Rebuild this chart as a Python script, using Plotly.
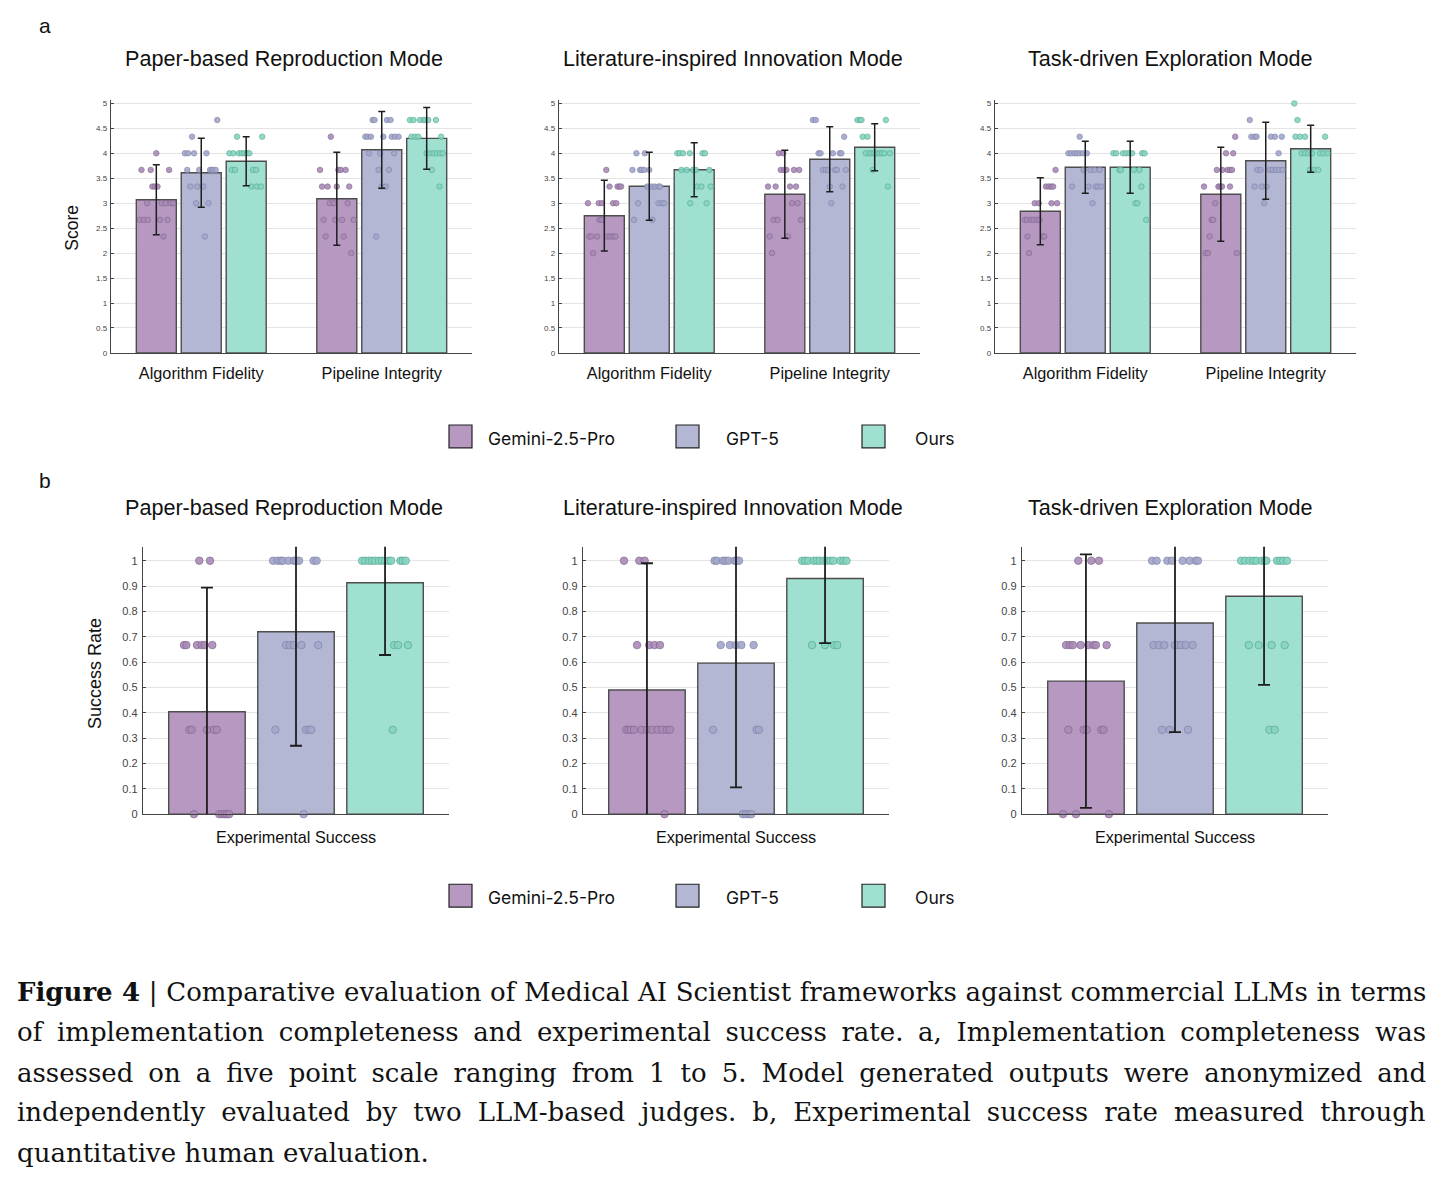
import plotly.graph_objects as go

W, H = 1442, 1188

# ---------------- data ----------------
modes = ["Paper-based Reproduction Mode", "Literature-inspired Innovation Mode", "Task-driven Exploration Mode"]
models = ["Gemini-2.5-Pro", "GPT-5", "Ours"]
score_categories = ["Algorithm Fidelity", "Pipeline Integrity"]
success_category = "Experimental Success"

# mean score [category][model]
score_mean_repro = [[3.07, 3.61, 3.84], [3.09, 4.07, 4.30]]
score_err_repro = [[0.70, 0.69, 0.49], [0.93, 0.77, 0.62]]
score_mean_innov = [[2.75, 3.34, 3.67], [3.18, 3.88, 4.12]]
score_err_innov = [[0.71, 0.68, 0.54], [0.88, 0.65, 0.47]]
score_mean_explo = [[2.84, 3.72, 3.72], [3.18, 3.85, 4.09]]
score_err_explo = [[0.67, 0.52, 0.52], [0.94, 0.77, 0.47]]

# success rate [mode][model]
success_mean = [[0.404, 0.720, 0.913], [0.490, 0.596, 0.930], [0.525, 0.754, 0.860]]
success_err = [[0.49, 0.45, 0.285], [0.50, 0.49, 0.255], [0.50, 0.43, 0.35]]

# individual judgements: (score, [jitter offsets as fraction of bar width])
pts_repro = [
    [  # Algorithm Fidelity
        [(4.0, [0.0]), (3.667, [-0.37, -0.14, 0.32]), (3.333, [-0.10, -0.04, 0.03]),
         (3.0, [-0.23, 0.13, 0.23, 0.36, 0.42]), (2.667, [-0.41, -0.31, -0.21, 0.09, 0.28]), (2.333, [0.18])],
        [(4.667, [0.40]), (4.333, [-0.23]), (4.0, [-0.41, -0.33, -0.18, 0.13]),
         (3.667, [-0.35, -0.05, 0.22, 0.26, 0.30, 0.36]), (3.333, [-0.27, -0.10, 0.05]), (3.0, [-0.13, 0.18]), (2.333, [0.09])],
        [(4.333, [-0.23, 0.40]), (4.0, [-0.42, -0.32, -0.18, -0.11, -0.05, 0.02, 0.08]),
         (3.667, [-0.36, -0.28, 0.17, 0.25]), (3.333, [0.13, 0.27, 0.37])],
    ],
    [  # Pipeline Integrity
        [(4.333, [-0.15]), (3.667, [-0.42, 0.04, 0.10, 0.22]), (3.333, [-0.37, -0.23, 0.0, 0.31]),
         (3.0, [-0.18, -0.08, 0.27]), (2.667, [-0.33, -0.04, 0.13, 0.42]), (2.333, [-0.28, 0.17]), (2.0, [0.36])],
        [(4.667, [-0.23, -0.18, 0.13, 0.22]), (4.333, [-0.41, -0.35, -0.27, 0.04, 0.25, 0.33, 0.42]),
         (4.0, [-0.32, -0.04, 0.31]), (3.667, [-0.08, 0.18]), (3.333, [0.0, 0.10]), (2.333, [-0.14])],
        [(4.667, [-0.42, -0.33, -0.17, -0.08, -0.04, 0.04, 0.23]), (4.333, [-0.38, -0.29, -0.21, 0.36]),
         (4.0, [0.0, 0.08, 0.17, 0.25, 0.33, 0.40]), (3.667, [0.13]), (3.333, [0.32])],
    ],
]
pts_innov = [
    [
        [(3.667, [0.05]), (3.333, [0.13, 0.33, 0.38, 0.42]), (3.0, [-0.41, -0.14, -0.06, 0.22, 0.30]),
         (2.667, [-0.12, -0.06]), (2.333, [-0.38, -0.33, -0.18, 0.07, 0.15, 0.22, 0.28]), (2.0, [-0.28])],
        [(4.0, [-0.32, -0.11]), (3.667, [-0.42, -0.23, -0.19, -0.13, 0.0]), (3.333, [-0.05, 0.06, 0.14, 0.23, 0.27]),
         (3.0, [-0.28, 0.23, 0.31, 0.37]), (2.667, [-0.38, 0.08])],
        [(4.0, [-0.42, -0.36, -0.28, -0.11, 0.21, 0.27]), (3.667, [-0.32, -0.19, -0.03, 0.04, 0.38]),
         (3.333, [0.08, 0.18, 0.41]), (3.0, [-0.10, 0.31])],
    ],
    [
        [(4.0, [-0.15, -0.04]), (3.667, [-0.10, -0.02, 0.04, 0.23, 0.36]), (3.333, [-0.42, -0.23, 0.13, 0.28]),
         (3.0, [0.18, 0.32]), (2.667, [-0.28, -0.18, 0.40]), (2.333, [-0.38, 0.08]), (2.0, [-0.32])],
        [(4.667, [-0.42, -0.35]), (4.333, [0.36]), (4.0, [-0.28, -0.23, 0.08, 0.25, 0.29]),
         (3.667, [-0.17, -0.10, -0.04, 0.13, 0.18, 0.40]), (3.333, [0.0, 0.32]), (3.0, [0.04])],
        [(4.667, [-0.43, -0.37, -0.33, 0.28]), (4.333, [-0.30, -0.18]),
         (4.0, [-0.22, -0.13, -0.08, -0.01, 0.05, 0.12, 0.18, 0.24, 0.38]), (3.667, [-0.05]), (3.333, [0.33])],
    ],
]
pts_explo = [
    [
        [(3.667, [0.38]), (3.333, [0.14, 0.21, 0.27, 0.32]), (3.0, [-0.14, -0.04, 0.28, 0.42]),
         (2.667, [-0.39, -0.33, -0.23, -0.17, -0.08, -0.02]), (2.333, [-0.32, 0.07, 0.10]), (2.0, [-0.28])],
        [(4.333, [-0.14]), (4.0, [-0.42, -0.35, -0.27, -0.21, -0.14, -0.06, 0.04]),
         (3.667, [-0.04, 0.13, 0.23, 0.36]), (3.333, [-0.33, 0.08, 0.26, 0.32, 0.40]), (3.0, [0.18])],
        [(4.0, [-0.42, -0.35, -0.18, -0.10, -0.02, 0.05, 0.30, 0.36]), (3.667, [-0.27, -0.23, 0.09, 0.23]),
         (3.333, [0.28]), (3.0, [0.13, 0.18]), (2.667, [0.40])],
    ],
    [
        [(4.333, [0.36]), (4.0, [0.13, 0.31]), (3.667, [-0.10, 0.04, 0.17, 0.23, 0.28]),
         (3.333, [-0.42, -0.06, -0.02, 0.03, 0.23]), (3.0, [-0.14]), (2.667, [-0.23, -0.19]), (2.333, [-0.28]),
         (2.0, [-0.38, -0.32, 0.40])],
        [(4.667, [-0.40]), (4.333, [-0.36, -0.28, -0.23, 0.13, 0.23, 0.40]), (4.0, [0.32]),
         (3.667, [-0.21, -0.13, 0.10, 0.17, 0.25, 0.33, 0.42]), (3.333, [-0.28, -0.10, 0.02]), (3.0, [-0.04])],
        [(5.0, [-0.41]), (4.667, [-0.33]), (4.333, [-0.38, -0.27, -0.14, 0.36]),
         (4.0, [-0.23, -0.14, -0.06, 0.03, 0.23, 0.32, 0.42]), (3.667, [-0.02, 0.09, 0.19])],
    ],
]

# success: [mode][model] -> (rate, offsets)
pts_success = [
    [
        [(1.0, [-0.10, 0.04]), (0.667, [-0.30, -0.27, -0.13, -0.07, -0.03, 0.07]),
         (0.333, [-0.23, -0.20, 0.0, 0.09, 0.13]), (0.0, [-0.17, 0.16, 0.20, 0.23, 0.26, 0.29])],
        [(1.0, [-0.30, -0.24, -0.20, -0.17, -0.10, -0.03, 0.0, 0.04, 0.23, 0.27]),
         (0.667, [-0.13, -0.08, -0.03, 0.07, 0.29]), (0.333, [-0.27, 0.13, 0.17, 0.20]), (0.0, [0.10])],
        [(1.0, [-0.30, -0.26, -0.21, -0.17, -0.13, -0.08, -0.04, 0.0, 0.05, 0.08, 0.20, 0.23, 0.27]),
         (0.667, [0.12, 0.17, 0.30]), (0.333, [0.10])],
    ],
    [
        [(1.0, [-0.30, -0.10, -0.03]), (0.667, [-0.13, 0.03, 0.10, 0.17]),
         (0.333, [-0.27, -0.24, -0.21, -0.17, -0.07, 0.0, 0.07, 0.14, 0.20, 0.26, 0.30]), (0.0, [0.23])],
        [(1.0, [-0.28, -0.25, -0.17, -0.14, -0.10, -0.02, 0.01, 0.04]),
         (0.667, [-0.20, -0.08, 0.0, 0.07, 0.23]), (0.333, [-0.30, 0.27, 0.30]), (0.0, [0.09, 0.13, 0.17, 0.20])],
        [(1.0, [-0.30, -0.26, -0.22, -0.15, -0.11, -0.07, -0.02, 0.02, 0.07, 0.11, 0.20, 0.24, 0.28]),
         (0.667, [-0.17, 0.0, 0.12, 0.16])],
    ],
    [
        [(1.0, [-0.10, 0.07, 0.17]), (0.667, [-0.26, -0.21, -0.17, -0.07, 0.03, 0.10, 0.13, 0.27]),
         (0.333, [-0.23, -0.03, 0.01, 0.20, 0.23]), (0.0, [-0.30, -0.13, 0.30])],
        [(1.0, [-0.30, -0.24, -0.10, -0.04, 0.10, 0.19, 0.27, 0.30]),
         (0.667, [-0.28, -0.21, -0.14, 0.0, 0.04, 0.08, 0.14, 0.23]), (0.333, [-0.17, -0.07, 0.17])],
        [(1.0, [-0.30, -0.25, -0.19, -0.14, -0.10, -0.03, 0.01, 0.03, 0.17, 0.21, 0.25, 0.30]),
         (0.667, [-0.20, -0.07, 0.10, 0.27]), (0.333, [0.07, 0.14])],
    ],
]

caption_lines = [
    "<b>Figure 4</b> | Comparative evaluation of Medical AI Scientist frameworks against commercial LLMs in terms",
    "of implementation completeness and experimental success rate. a, Implementation completeness was",
    "assessed on a five point scale ranging from 1 to 5. Model generated outputs were anonymized and",
    "independently evaluated by two LLM-based judges. b, Experimental success rate measured through",
    "quantitative human evaluation.",
]

# ---------------- style ----------------
bar_colors = ["#B798C1", "#B3B7D4", "#A0E0D0"]
dot_colors = ["#AA8BB7", "#A3A7CA", "#86D5C1"]
dot_edges = ["#876B95", "#8488AD", "#5FAE9A"]
SANS = "Liberation Sans, Arial, sans-serif"
caption_word_spacing = [0.4, 6.4, 6.75, 7.8, 0]


def px(x):
    return x / W


def py(y):
    return 1 - y / H


fig = go.Figure()

a_domains_x = [(111, 472), (559, 920), (995, 1356)]
a_domain_y = (100, 354)
b_domains_x = [(143, 449), (583, 889), (1022, 1328)]
b_domain_y = (549, 818)

a_bw, a_step = 0.2216, 0.249
b_bw, b_step = 0.25, 0.291

score_means = [score_mean_repro, score_mean_innov, score_mean_explo]
score_errs = [score_err_repro, score_err_innov, score_err_explo]
score_pts = [pts_repro, pts_innov, pts_explo]

layout_axes = {}

# ---- panel a ----
for s in range(3):
    ax = s + 1
    xa, ya = f"x{ax}", f"y{ax}"
    for m in range(3):
        xs = [c + 1 + (m - 1) * a_step for c in range(len(score_categories))]
        ys = [score_means[s][c][m] for c in range(len(score_categories))]
        fig.add_trace(go.Bar(x=xs, y=ys, width=a_bw, xaxis=xa, yaxis=ya,
                             marker=dict(color=bar_colors[m], line=dict(color="#4d4d4d", width=1.4)),
                             showlegend=False, hoverinfo="skip"))
    for m in range(3):
        px_list, py_list = [], []
        for c in range(len(score_categories)):
            center = c + 1 + (m - 1) * a_step
            for val, offs in score_pts[s][c][m]:
                for o in offs:
                    px_list.append(center + o * a_bw)
                    py_list.append(val)
        fig.add_trace(go.Scatter(x=px_list, y=py_list, mode="markers", xaxis=xa, yaxis=ya,
                                 marker=dict(size=5.5, color=dot_colors[m], opacity=0.9,
                                             line=dict(color=dot_edges[m], width=0.8)),
                                 cliponaxis=False, showlegend=False, hoverinfo="skip"))
    for m in range(3):
        xs = [c + 1 + (m - 1) * a_step for c in range(len(score_categories))]
        ys = [score_means[s][c][m] for c in range(len(score_categories))]
        es = [score_errs[s][c][m] for c in range(len(score_categories))]
        fig.add_trace(go.Scatter(x=xs, y=ys, mode="markers", xaxis=xa, yaxis=ya,
                                 marker=dict(size=1, opacity=0),
                                 error_y=dict(type="data", array=es, visible=True, color="#1e1e1e",
                                              thickness=1.5, width=3.5),
                                 showlegend=False, hoverinfo="skip"))
    layout_axes[f"xaxis{ax}"] = dict(
        domain=[px(a_domains_x[s][0]), px(a_domains_x[s][1])], anchor=ya, range=[0.5, 2.5],
        tickvals=[1, 2], ticktext=score_categories, showgrid=False, zeroline=False,
        showline=True, linecolor="#444", linewidth=1.4, ticks="",
        tickfont=dict(family=SANS, size=16.3, color="#111"), ticklabelstandoff=5)
    layout_axes[f"yaxis{ax}"] = dict(
        domain=[py(a_domain_y[1]), py(a_domain_y[0])], anchor=xa, range=[0, 5.06], dtick=0.5,
        showgrid=True, gridcolor="#E4E4E4", gridwidth=1, zeroline=False,
        showline=True, linecolor="#444", linewidth=1.4, ticks="inside", ticklen=3, tickcolor="#444",
        tickfont=dict(family=SANS, size=8, color="#444"), ticklabelstandoff=1)

# ---- panel b ----
for s in range(3):
    ax = s + 4
    xa, ya = f"x{ax}", f"y{ax}"
    for m in range(3):
        fig.add_trace(go.Bar(x=[1 + (m - 1) * b_step], y=[success_mean[s][m]], width=b_bw, xaxis=xa, yaxis=ya,
                             marker=dict(color=bar_colors[m], line=dict(color="#4d4d4d", width=1.4)),
                             showlegend=False, hoverinfo="skip"))
    for m in range(3):
        center = 1 + (m - 1) * b_step
        px_list, py_list = [], []
        for val, offs in pts_success[s][m]:
            for o in offs:
                px_list.append(center + o * b_bw)
                py_list.append(val)
        fig.add_trace(go.Scatter(x=px_list, y=py_list, mode="markers", xaxis=xa, yaxis=ya,
                                 marker=dict(size=7.5, color=dot_colors[m], opacity=0.9,
                                             line=dict(color=dot_edges[m], width=0.9)),
                                 cliponaxis=False, showlegend=False, hoverinfo="skip"))
    for m in range(3):
        fig.add_trace(go.Scatter(x=[1 + (m - 1) * b_step], y=[success_mean[s][m]], mode="markers",
                                 xaxis=xa, yaxis=ya, marker=dict(size=1, opacity=0),
                                 error_y=dict(type="data", array=[success_err[s][m]], visible=True,
                                              color="#1e1e1e", thickness=1.8, width=6),
                                 cliponaxis=True, showlegend=False, hoverinfo="skip"))
    layout_axes[f"xaxis{ax}"] = dict(
        domain=[px(b_domains_x[s][0]), px(b_domains_x[s][1])], anchor=ya, range=[0.5, 1.5],
        tickvals=[1], ticktext=[success_category], showgrid=False, zeroline=False,
        showline=True, linecolor="#444", linewidth=1.4, ticks="",
        tickfont=dict(family=SANS, size=16.2, color="#111"), ticklabelstandoff=8)
    layout_axes[f"yaxis{ax}"] = dict(
        domain=[py(b_domain_y[1]), py(b_domain_y[0])], anchor=xa, range=[0, 1.055], dtick=0.1,
        showgrid=True, gridcolor="#E4E4E4", gridwidth=1, zeroline=False,
        showline=True, linecolor="#444", linewidth=1.4, ticks="inside", ticklen=3, tickcolor="#444",
        tickfont=dict(family=SANS, size=11, color="#444"), ticklabelstandoff=2)

annotations = []
shapes = []

# panel letters
for letter, y in [("a", 25), ("b", 482)]:
    annotations.append(dict(text=letter, x=px(45), y=py(y), xref="paper", yref="paper",
                            showarrow=False, xanchor="center", yanchor="middle",
                            font=dict(family=SANS, size=21, color="#111")))

# subplot titles
title_cx = [284, 733, 1170]
for s in range(3):
    for y in (58, 510):
        annotations.append(dict(text=modes[s], x=px(title_cx[s]), y=py(y), xref="paper", yref="paper",
                                showarrow=False, xanchor="center", yanchor="middle",
                                font=dict(family=SANS, size=21.6, color="#111")))

# y titles
annotations.append(dict(text="Score", x=px(72), y=py(228), xref="paper", yref="paper", textangle=-90,
                        showarrow=False, xanchor="center", yanchor="middle",
                        font=dict(family=SANS, size=17.5, color="#111")))
annotations.append(dict(text="Success Rate", x=px(95), y=py(677), xref="paper", yref="paper", textangle=-90,
                        showarrow=False, xanchor="center", yanchor="middle",
                        font=dict(family=SANS, size=18, color="#111")))

# legends
leg_sq_x = [449, 676, 862]
leg_txt_x = [486, 724, 913]
for ly in (438, 900):
    for m in range(3):
        shapes.append(dict(type="rect", xref="paper", yref="paper",
                           x0=px(leg_sq_x[m]), x1=px(leg_sq_x[m] + 23),
                           y0=py(ly + 11.5), y1=py(ly - 11.5),
                           fillcolor=bar_colors[m], line=dict(color="#222", width=1.2)))
        annotations.append(dict(text=models[m], x=px(leg_txt_x[m]), y=py(ly + 2), xref="paper", yref="paper",
                                showarrow=False, xanchor="left", yanchor="middle",
                                font=dict(family="Inter, sans-serif", size=17.5, color="#111")))

# caption
cap_y = [997, 1037, 1078, 1118, 1159]
for t, y, ws in zip(caption_lines, cap_y, caption_word_spacing):
    annotations.append(dict(text=f'<span style="word-spacing:{ws}px">{t}</span>', x=px(15), y=py(y),
                            xref="paper", yref="paper",
                            showarrow=False, xanchor="left", yanchor="middle",
                            font=dict(family="DejaVu Serif, serif", size=26, color="#111")))

fig.update_layout(width=W, height=H, margin=dict(l=0, r=0, t=0, b=0),
                  paper_bgcolor="white", plot_bgcolor="white", barmode="overlay",
                  annotations=annotations, shapes=shapes, showlegend=False, **layout_axes)

fig.write_html("out.html")
